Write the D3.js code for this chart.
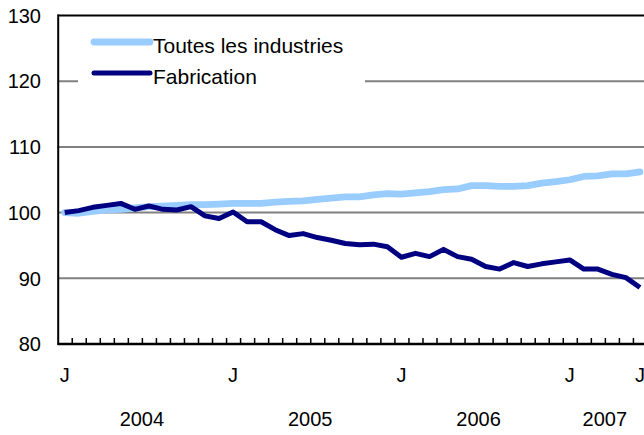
<!DOCTYPE html>
<html>
<head>
<meta charset="utf-8">
<script src="https://cdn.jsdelivr.net/npm/d3@7"></script>
<style>
  html, body { margin: 0; padding: 0; background: #fff; }
  svg { display: block; font-family: "Liberation Sans", Arial, Helvetica, sans-serif; }
</style>
</head>
<body>
<svg id="chart" width="644" height="435"></svg>
<script>
// ---- data (monthly index, Jan 2004 = 100; Jan 2004 .. Jun 2007) ----
const months = [
  "2004-01","2004-02","2004-03","2004-04","2004-05","2004-06","2004-07","2004-08","2004-09","2004-10","2004-11","2004-12",
  "2005-01","2005-02","2005-03","2005-04","2005-05","2005-06","2005-07","2005-08","2005-09","2005-10","2005-11","2005-12",
  "2006-01","2006-02","2006-03","2006-04","2006-05","2006-06","2006-07","2006-08","2006-09","2006-10","2006-11","2006-12",
  "2007-01","2007-02","2007-03","2007-04","2007-05","2007-06"
];
const toutesLesIndustries = [
  100.0, 99.9, 100.2, 100.4, 100.5, 100.7, 100.9, 101.0, 101.1, 101.2, 101.2, 101.3,
  101.4, 101.4, 101.4, 101.6, 101.7, 101.8, 102.0, 102.2, 102.4, 102.4, 102.7, 102.9,
  102.8, 103.0, 103.2, 103.5, 103.6, 104.1, 104.1, 104.0, 104.0, 104.1, 104.5, 104.7,
  105.0, 105.5, 105.6, 105.9, 105.9, 106.2
];
const fabrication = [
  100.0, 100.3, 100.8, 101.1, 101.4, 100.5, 101.0, 100.5, 100.4, 100.9, 99.5, 99.1,
  100.1, 98.6, 98.6, 97.4, 96.5, 96.8, 96.2, 95.8, 95.3, 95.1, 95.2, 94.8,
  93.2, 93.8, 93.3, 94.4, 93.3, 92.9, 91.8, 91.4, 92.4, 91.8, 92.2, 92.5,
  92.8, 91.4, 91.4, 90.6, 90.1, 88.6
];
const seriesNames = ["Toutes les industries", "Fabrication"];
const yTicks = [80, 90, 100, 110, 120, 130];
const gridValues = [90, 100, 110, 120];
const monthTickLabels = [ {month: "2004-01", label: "J"}, {month: "2005-01", label: "J"},
                          {month: "2006-01", label: "J"}, {month: "2007-01", label: "J"},
                          {month: "2007-06", label: "J"} ];
const years = ["2004", "2005", "2006", "2007"];

// ---- layout ----
const svg = d3.select("#chart");
const plotLeft = 57.7, bandW = 14.03;
const plotRight = plotLeft + months.length * bandW;
const plotTop = 15.5, plotBottom = 344;
const colors = ["#99ccff", "#000080"];
const widths = [6.8, 5];
const fontSize = 20;

const x = d3.scaleLinear().domain([0, months.length]).range([plotLeft, plotRight]);
const y = d3.scaleLinear().domain([80, 130]).range([plotBottom, plotTop]);
const xc = i => x(i + 0.5);

// gridlines
svg.append("g").selectAll("line").data(gridValues).join("line")
  .attr("x1", plotLeft).attr("x2", plotRight)
  .attr("y1", d => y(d)).attr("y2", d => y(d))
  .attr("stroke", "#808080").attr("stroke-width", 2);

// legend box (white, hides the gridline behind it)
svg.append("rect").attr("x", 78).attr("y", 24).attr("width", 287).attr("height", 72)
  .attr("fill", "#fff");

// lines
const line = d3.line().x((d, i) => xc(i)).y(d => y(d));
[toutesLesIndustries, fabrication].forEach((s, k) => {
  svg.append("path").datum(s).attr("d", line)
    .attr("fill", "none").attr("stroke", colors[k]).attr("stroke-width", widths[k])
    .attr("stroke-linejoin", "round").attr("stroke-linecap", k === 0 ? "round" : "butt");
});

// frame: top and left
svg.append("line").attr("x1", plotLeft).attr("x2", 650).attr("y1", plotTop).attr("y2", plotTop)
  .attr("stroke", "#000").attr("stroke-width", 2);
svg.append("line").attr("x1", plotLeft + 0.5).attr("x2", plotLeft + 0.5).attr("y1", plotTop - 1).attr("y2", plotBottom + 1)
  .attr("stroke", "#000").attr("stroke-width", 2);

// x axis with inward ticks at month boundaries
const xAxis = d3.axisBottom(x).tickValues(d3.range(1, months.length)).tickSize(-6).tickSizeOuter(0).tickFormat("");
const gx = svg.append("g").attr("transform", `translate(0,${plotBottom})`).call(xAxis);
gx.select(".domain").attr("stroke", "#000").attr("stroke-width", 2.5).attr("d", `M${plotLeft},0H${plotRight}`);
gx.selectAll(".tick line").attr("stroke", "#000").attr("stroke-width", 1.5);

// month labels
svg.append("g").selectAll("text").data(monthTickLabels).join("text")
  .attr("x", d => xc(months.indexOf(d.month))).attr("y", 382)
  .attr("text-anchor", "middle").attr("font-size", fontSize).attr("fill", "#000")
  .text(d => d.label);

// year labels, centred under their months
svg.append("g").selectAll("text").data(years).join("text")
  .attr("x", yr => {
    const idx = months.map((m, i) => m.startsWith(yr) ? i : -1).filter(i => i >= 0);
    return (x(idx[0]) + x(idx[idx.length - 1] + 1)) / 2;
  })
  .attr("y", 425.5).attr("text-anchor", "middle").attr("font-size", fontSize).attr("fill", "#000")
  .text(d => d);

// y labels
svg.append("g").selectAll("text").data(yTicks).join("text")
  .attr("x", 41).attr("y", d => y(d)).attr("dy", "0.36em")
  .attr("text-anchor", "end").attr("font-size", fontSize).attr("fill", "#000")
  .text(d => d);

// legend
const legY = [42, 73];
seriesNames.forEach((name, k) => {
  svg.append("line").attr("x1", 94).attr("x2", 150).attr("y1", legY[k]).attr("y2", legY[k])
    .attr("stroke", colors[k]).attr("stroke-width", widths[k]).attr("stroke-linecap", "round");
  svg.append("text").attr("x", 153).attr("y", legY[k] + 11).attr("font-size", 21).attr("fill", "#000")
    .text(name);
});
</script>
</body>
</html>
